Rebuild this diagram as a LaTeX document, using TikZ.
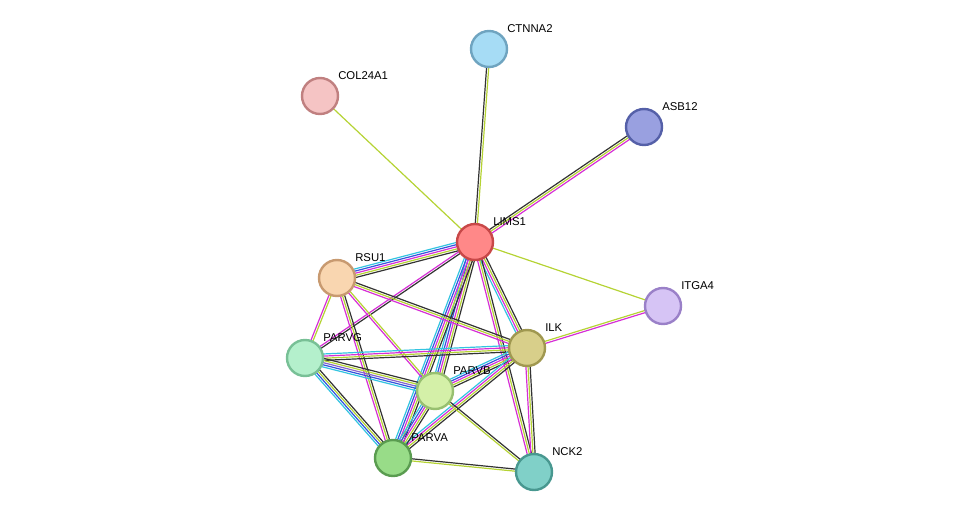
\documentclass[tikz,border=0pt]{standalone}
\usepackage{fontspec}
\setmainfont{Liberation Sans}
\usetikzlibrary{calc}
\definecolor{yg}{HTML}{B5D334}
\definecolor{mg}{HTML}{D62FD6}
\definecolor{cy}{HTML}{33C4E0}
\definecolor{bl}{HTML}{3355DD}
\definecolor{pu}{HTML}{8866CC}
\definecolor{bk}{HTML}{333333}
\tikzset{
 prot/.style={circle,minimum size=36\pxu,inner sep=0pt,line width=1.8pt},
 lab/.style={font=\fontsize{8.5}{10}\selectfont,anchor=south west,inner sep=0pt},
}
\newlength\pxu \setlength\pxu{0.75pt}
\newcommand{\pedge}[3]{%
 \foreach \c [count=\i] in {#3} {\xdef\nn{\i}}%
 \foreach \c [count=\i] in {#3} {%
  \pgfmathsetmacro\off{(\i-(\nn+1)/2)*1.6}%
  \draw[\c,line width=0.9pt] ($(#1)!\off pt!90:(#2)$) -- ($(#2)!\off pt!-90:(#1)$);}%
}
\begin{document}
\begin{tikzpicture}[x=0.75pt,y=-0.75pt]
\useasboundingbox (0,0) rectangle (975,518);
\coordinate (CTNNA2) at (489,49);
\coordinate (COL24A1) at (320,96);
\coordinate (ASB12) at (644,127);
\coordinate (LIMS1) at (475,242);
\coordinate (RSU1) at (337,278);
\coordinate (ITGA4) at (663,306);
\coordinate (ILK) at (527,348);
\coordinate (PARVG) at (305,358);
\coordinate (PARVB) at (435,391);
\coordinate (PARVA) at (393,458);
\coordinate (NCK2) at (534,472);
\pedge{LIMS1}{CTNNA2}{yg,bk}
\pedge{LIMS1}{COL24A1}{yg}
\pedge{LIMS1}{ASB12}{mg,yg,bk}
\pedge{LIMS1}{ITGA4}{yg}
\pedge{LIMS1}{RSU1}{cy,bl,mg,yg,bk}
\pedge{LIMS1}{ILK}{cy,mg,yg,bk}
\pedge{LIMS1}{PARVB}{cy,bl,mg,yg,bk}
\pedge{LIMS1}{PARVA}{cy,bl,mg,yg,bk}
\pedge{LIMS1}{PARVG}{mg,bk}
\pedge{LIMS1}{NCK2}{mg,yg,bk}
\pedge{RSU1}{ILK}{mg,yg,bk}
\pedge{RSU1}{PARVB}{mg,yg}
\pedge{RSU1}{PARVA}{mg,yg,bk}
\pedge{RSU1}{PARVG}{mg,yg}
\pedge{ILK}{ITGA4}{mg,yg}
\pedge{ILK}{PARVG}{cy,mg,yg,bk}
\pedge{ILK}{PARVB}{cy,bl,mg,yg,bk}
\pedge{ILK}{PARVA}{cy,mg,yg,bk}
\pedge{ILK}{NCK2}{mg,yg,bk}
\pedge{PARVG}{PARVB}{cy,bl,pu,yg,bk}
\pedge{PARVG}{PARVA}{cy,bl,yg,bk}
\pedge{PARVB}{PARVA}{cy,bl,mg,yg,bk}
\pedge{PARVB}{NCK2}{yg,bk}
\pedge{PARVA}{NCK2}{yg,bk}
\foreach \n/\f/\d in {CTNNA2/A6DCF5/6FA4C0, COL24A1/F5C4C4/C08080, ASB12/99A0E0/5560A8, LIMS1/FF8888/C84848, RSU1/F9D6B0/C89A70, ITGA4/D6C4F5/9A80C8, ILK/D8CF8A/A09850, PARVG/B4F0CC/78C096, PARVB/D4F0A8/98C070, PARVA/98DC88/5A9C50, NCK2/80D0C8/489890}{
 \definecolor{fc}{HTML}{\f}\definecolor{dc}{HTML}{\d}
 \node[prot,fill=fc,draw=dc] (n\n) at (\n) {};
 \node[lab] (l\n) at ($(\n)+(18,-16)$) {\n};
}
\end{tikzpicture}
\end{document}
